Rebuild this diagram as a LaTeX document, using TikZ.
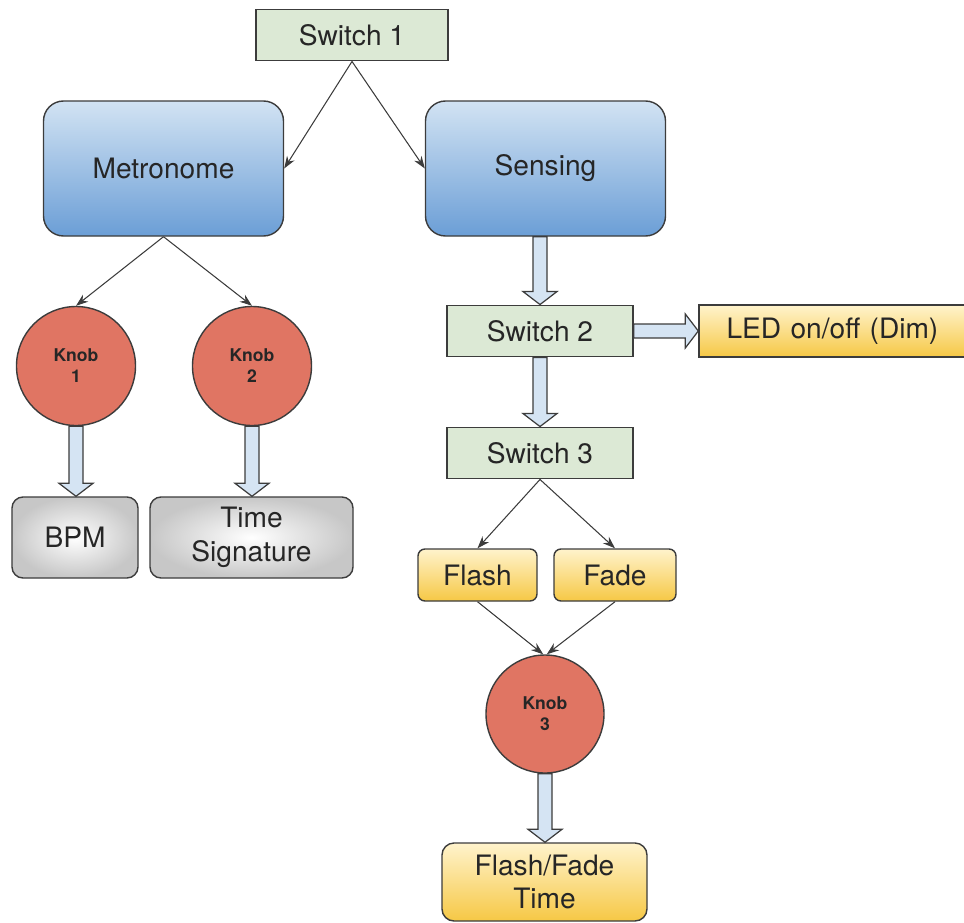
\documentclass[tikz,border=0pt]{standalone}
\usepackage{fontspec}
\setmainfont{TeX Gyre Heros}
\usetikzlibrary{arrows.meta,calc}

\definecolor{edge}{HTML}{3C3C3C}
\definecolor{swgreen}{HTML}{DCE9D5}
\definecolor{bluetop}{HTML}{D2E3F3}
\definecolor{bluebot}{HTML}{6B9ED6}
\definecolor{yeltop}{HTML}{FFF3CC}
\definecolor{yelbot}{HTML}{F6C845}
\definecolor{knobred}{HTML}{E07563}
\definecolor{fatblue}{HTML}{D5E4F3}

\tikzset{
  switchbox/.style={draw=edge,line width=0.8pt,fill=swgreen,minimum height=1.03cm,
    font=\fontsize{16}{19}\selectfont,text=black!85},
  modebox/.style={draw=edge,line width=0.8pt,rounded corners=0.4cm,top color=bluetop,
    bottom color=bluebot,minimum width=4.8cm,minimum height=2.7cm,
    font=\fontsize{16}{19}\selectfont,text=black!85},
  knob/.style={circle,draw=edge,line width=0.8pt,fill=knobred,minimum size=2.38cm,
    align=center,font=\fontsize{10}{12}\selectfont\bfseries,text=black!85},
  outbox/.style={draw=edge,line width=0.8pt,rounded corners=0.22cm,inner color=white,
    outer color=black!22,minimum height=1.62cm,align=center,
    font=\fontsize{16}{19}\selectfont,text=black!85},
  ledbox/.style={draw=edge,line width=0.8pt,top color=yeltop,bottom color=yelbot,
    minimum height=1.04cm,align=center,font=\fontsize{16}{19}\selectfont,text=black!85},
  thin/.style={draw=edge,line width=0.6pt,-{Stealth[length=7pt,width=5pt]}},
  fat/.style={draw=edge,line width=0.7pt,fill=fatblue,line join=miter}
}

% hollow block arrow from #1 to #2
\newcommand{\fatarrow}[2]{%
  \path ($(#2)!0.26cm!(#1)$) coordinate (fah);
  \filldraw[fat] ($(#1)!0.14cm!90:(#2)$) -- ($(fah)!0.14cm!-90:(#1)$)
    -- ($(fah)!0.34cm!-90:(#1)$) -- (#2) -- ($(fah)!0.34cm!90:(#1)$)
    -- ($(fah)!0.14cm!90:(#1)$) -- ($(#1)!0.14cm!-90:(#2)$) -- cycle;}

\begin{document}
\begin{tikzpicture}
    \useasboundingbox (0,0) rectangle (19.28,-18.44);

    % top switch and the two modes
    \node[switchbox,minimum width=3.84cm] (sw1) at (7.04,-0.70) {Switch 1};
    \node[modebox] (metro) at (3.27,-3.37) {Metronome};
    \node[modebox] (sense) at (10.91,-3.37) {Sensing};
    \draw[thin] (sw1.south) -- (metro.east);
    \draw[thin] (sw1.south) -- (sense.west);

    % metronome side
    \node[knob] (knob1) at (1.52,-7.32) {Knob\\1};
    \node[knob] (knob2) at (5.04,-7.32) {Knob\\2};
    \draw[thin] (metro.south) -- (knob1.north);
    \draw[thin] (metro.south) -- (knob2.north);

    \node[outbox,minimum width=2.52cm] (bpm) at (1.50,-10.75) {BPM};
    \node[outbox,minimum width=4.06cm] (tsig) at (5.03,-10.75) {Time\\Signature};
    \fatarrow{knob1.south}{knob1.south |- bpm.north}
    \fatarrow{knob2.south}{knob2.south |- tsig.north}

    % sensing side
    \node[switchbox,minimum width=3.72cm] (sw2) at (10.80,-6.62) {Switch 2};
    \node[ledbox,inner xsep=0.55cm,text width=4.4cm,align=left] (led) at (16.73,-6.62) {LED on/off (Dim)};
    \node[switchbox,minimum width=3.72cm] (sw3) at (10.80,-9.06) {Switch 3};
    \fatarrow{sense.south -| sw2.north}{sw2.north}
    \fatarrow{sw2.east}{led.west}
    \fatarrow{sw2.south}{sw3.north}

    \node[ledbox,rounded corners=0.14cm,minimum width=2.38cm] (flash) at (9.55,-11.50) {Flash};
    \node[ledbox,rounded corners=0.14cm,minimum width=2.44cm] (fade) at (12.30,-11.50) {Fade};
    \draw[thin] (sw3.south) -- (flash.north);
    \draw[thin] (sw3.south) -- (fade.north);

    \node[knob,minimum size=2.36cm] (knob3) at (10.90,-14.28) {Knob\\3};
    \draw[thin] (flash.south) -- ([xshift=-1pt]knob3.north);
    \draw[thin] (fade.south) -- ([xshift=1pt]knob3.north);

    \node[ledbox,rounded corners=0.24cm,minimum width=4.1cm,minimum height=1.56cm]
      (fftime) at (10.89,-17.64) {Flash/Fade\\Time};
    \fatarrow{knob3.south}{knob3.south |- fftime.north}

\end{tikzpicture}
\end{document}
